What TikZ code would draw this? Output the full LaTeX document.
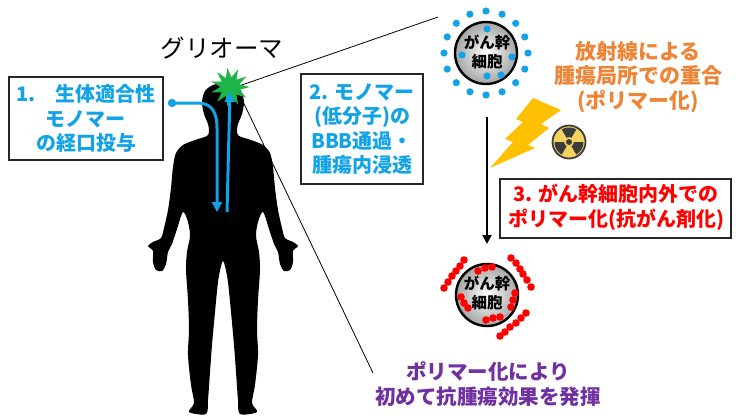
\documentclass[tikz,border=0pt]{standalone}
\usepackage{fontspec}
\setmainfont{Noto Sans CJK JP}
\usetikzlibrary{arrows.meta,shapes.geometric}
\definecolor{skyblue}{HTML}{12A3E6}
\definecolor{fireorange}{HTML}{EE8536}
\definecolor{polypurple}{HTML}{7030A0}
\definecolor{boltyellow}{HTML}{FFC000}
\definecolor{nukeyellow}{HTML}{F3D35E}
\definecolor{nukegray}{HTML}{3C3C3C}
\definecolor{burstgreen}{HTML}{1DB54A}
\begin{document}
\begin{tikzpicture}[x=1pt,y=-1pt,
  stepbox/.style={draw=black!85,line width=1.2pt,fill=white,inner sep=0pt},
  steptext/.style={align=center,inner sep=0pt,font=\bfseries\fontsize{20}{24.5}\selectfont},
  cellbody/.style={circle,draw=black,line width=2.4pt,inner color=white,outer color=black!35,minimum size=62pt,inner sep=0pt},
  celltext/.style={align=center,inner sep=0pt,font=\bfseries\fontsize{15.5}{19.5}\selectfont},
  monodot/.style={fill=skyblue},
  polydot/.style={fill=red},
  flowarrow/.style={draw=skyblue,line width=3pt,-{Triangle[length=10pt,width=10pt]}},
  zoomline/.style={draw=black,line width=0.8pt}
]
\fill[white] (0,0) rectangle (736,415);
\useasboundingbox (0,0) rectangle (736,415);

% human silhouette
\fill[black] plot[smooth cycle,tension=0.5] coordinates {
(224,83)(234,85)(241,91)(244,102)(242,114)(238,124)(237,131)(239,136)(251,140)(263,145)(270,153)(273,167)(275,188)(278,210)(282,228)(285,238)(293,242)(298,246)(293,251)(293,262)(290,270)(284,271)(280,264)(278,252)(274,244)(269,229)(263,212)(258,222)(256,236)(259,252)(260,270)(258,300)(257,330)(258,355)(255,385)(252,403)(257,412)(240,414)(238,400)(236,372)(234,345)(231,312)(228,282)(225,266)
(223,261)
(221,266)(218,282)(215,312)(212,345)(210,372)(208,400)(206,414)(189,412)(194,403)(191,385)(188,355)(189,330)(188,300)(186,270)(187,252)(190,236)(188,222)(183,212)(177,229)(172,244)(168,252)(166,264)(162,271)(156,270)(153,262)(153,251)(148,246)(153,242)(161,238)(164,228)(168,210)(171,188)(173,167)(176,153)(183,145)(195,140)(207,136)(209,131)(208,124)(204,114)(202,102)(205,91)(213,85)};

\node (title) at (222,48) {\fontsize{24.5}{28}\selectfont グリオーマ};

% tumour burst and the two lines fanning out from it
\coordinate (zoomA) at (438,17);
\coordinate (zoomB) at (373,373);
\node[star,star points=12,star point ratio=2,minimum size=38pt,inner sep=0pt] (tumor) at (230,87) {};
\draw[zoomline] ([xshift=6pt]tumor.center) -- (zoomA);
\draw[zoomline] ([xshift=6pt]tumor.center) -- (zoomB);
\node[star,star points=11,star point ratio=2,fill=burstgreen,minimum size=39pt,inner sep=0pt,rotate=8] at (tumor) {};

% oral intake and delivery to the tumour
\coordinate (intake) at (172,103);
\coordinate (gut) at (217,212);
\coordinate (blood) at (227,212);
\fill[skyblue] (intake) circle (4.2);
\draw[flowarrow] (intake) -- (198,103) .. controls (212,103) and (217,113) .. (217,128) -- (gut);
\draw[flowarrow] (blood) -- (tumor.center |- 0,92);

% step boxes
\node[stepbox,minimum width=154pt,minimum height=83pt] (box1) at (86,118.5) {};
\node[steptext,text=skyblue] (txt1) at (box1) {1.　生体適合性\\モノマー\\の経口投与};
\node[stepbox,minimum width=122pt,minimum height=110pt] (box2) at (362,129) {};
\node[steptext,text=skyblue] (txt2) at (box2) {2. モノマー\\(低分子)の\\BBB通過・\\腫瘍内浸透};
\node[stepbox,minimum width=231pt,minimum height=59pt] (box3) at (615.5,208.5) {};
\node[steptext,text=red] (txt3) at (616,207.5) {3. がん幹細胞内外での\\ポリマー化(抗がん剤化)};

% irradiation note
\node[align=center,inner sep=0pt,text=fireorange,font=\bfseries\fontsize{21}{24.5}\selectfont] (radnote) at (638,77) {放射線による\\腫瘍局所での重合\\(ポリマー化)};

% result note
\node[align=center,inner sep=0pt,text=polypurple,font=\bfseries\fontsize{20.5}{25}\selectfont] (result) at (488,384.5) {ポリマー化により\\初めて抗腫瘍効果を発揮};

% stem cell with monomers around it
\node[cellbody] (cellA) at (486,53) {};
\node[celltext] (cellAtxt) at (487,52) {がん幹\\細胞};
\foreach \a in {0,22.5,...,337.5}
  \fill[monodot] (486,53) ++(\a:42) circle (3.6);
\foreach \p in {(487,29),(462,55),(512,57),(487,76),(501,75)}
  \fill[monodot] \p circle (3.6);

% stem cell wrapped by polymer chains
\node[cellbody] (cellB) at (487,295) {};
\node[celltext] (cellBtxt) at (487,293) {がん幹\\細胞};
\foreach \p in {(444,288),(448,282),(452,276),(456,271),(460,266),(464,260),
                (511,258),(516,263),(520,269),(523,274),(527,280),(531,287),
                (500,336),(505,332),(510,327),(516,323),(521,318),(526,313),
                (478,271),(485,268),(492,267),
                (461,297),(464,303),(468,308),
                (515,293),(513,300),(511,307),
                (486,320),(493,318),(500,317)}
  \fill[polydot] \p circle (3.8);

% polymerisation step arrow
\coordinate (flowTop) at (487,117);
\coordinate (flowBot) at (487,244);
\draw[line width=2pt,-{Triangle[length=9pt,width=9pt]}] (flowTop) -- (flowBot);

% lightning bolt
\fill[boltyellow] (533,98) -- (561,110) -- (541,124) -- (549,128) -- (528,145) -- (535,148)
  -- (490,168) -- (513,142) -- (505,139) -- (523,122) -- (516,119) -- cycle;

% radiation sign
\begin{scope}[shift={(569,142)}]
  \fill[nukeyellow] (0,0) circle (16.5);
  \foreach \b in {30,150,270}
    \fill[nukegray] plot[domain=\b-30:\b+30,samples=12] ({4.8*cos(\x)},{4.8*sin(\x)})
      -- plot[domain=\b+30:\b-30,samples=12] ({14.5*cos(\x)},{14.5*sin(\x)}) -- cycle;
  \fill[nukegray] (0,0) circle (3);
  \draw[nukegray,line width=1.8pt] (0,0) circle (16.5);
\end{scope}
\end{tikzpicture}
\end{document}
